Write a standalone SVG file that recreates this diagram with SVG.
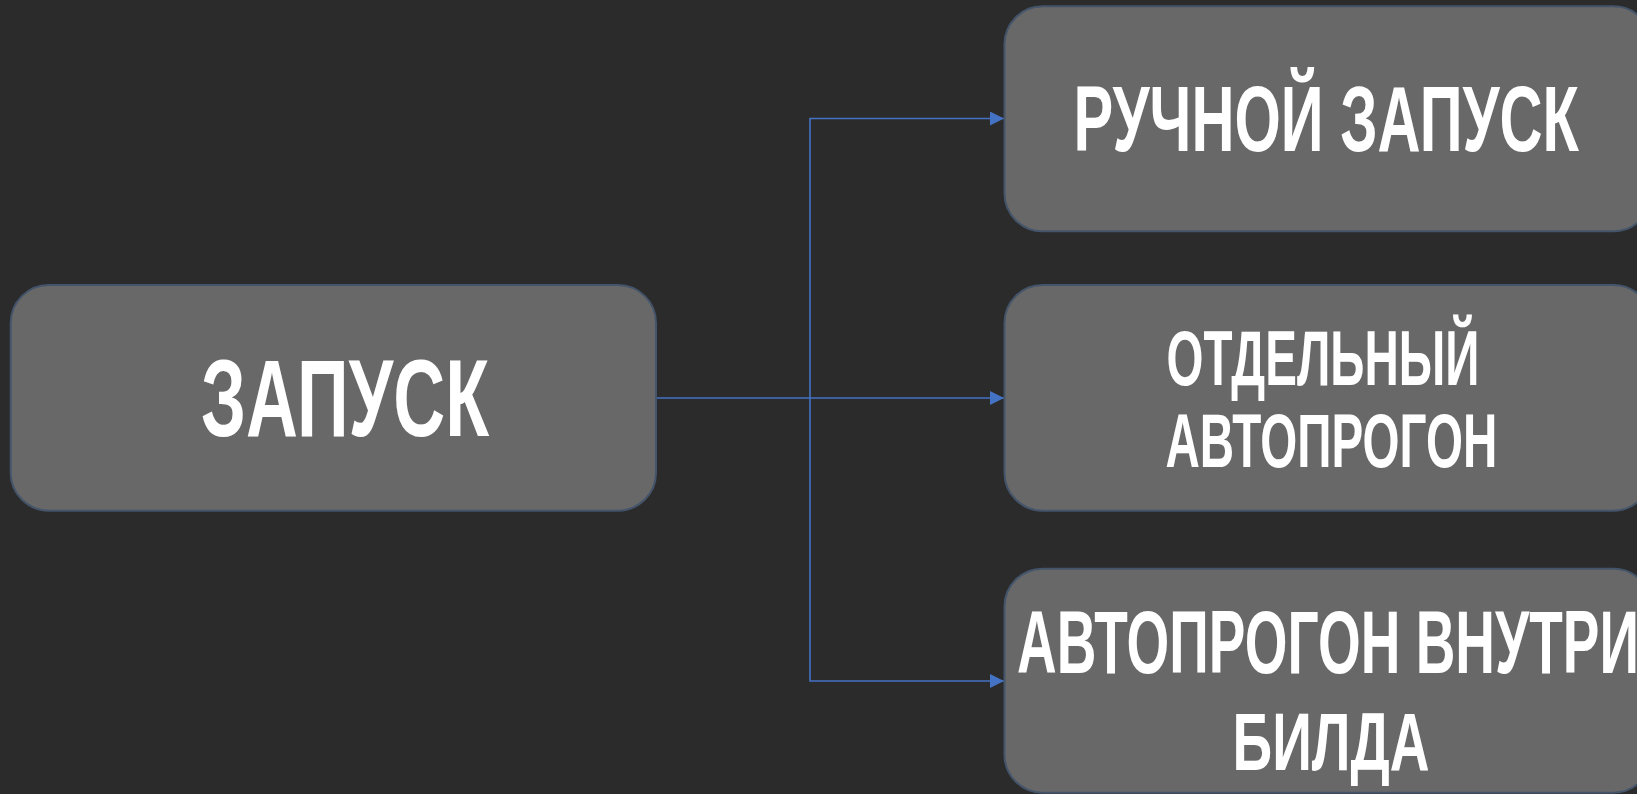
<svg xmlns="http://www.w3.org/2000/svg" width="1637" height="794" viewBox="0 0 1637 794">
<defs>
<style>
.box{fill:#686868;stroke:#44546A;stroke-width:2}
.t{font-family:"Liberation Sans","Noto Sans",Arial,sans-serif;font-weight:bold;fill:#FFFFFF}
.c{fill:none;stroke:#4472C4;stroke-width:1.6}
</style>
<marker id="arr" markerUnits="userSpaceOnUse" markerWidth="16" markerHeight="16" refX="14" refY="7" orient="auto">
<path d="M0,0 L14,7 L0,14 Z" fill="#4472C4"/>
</marker>
</defs>
<rect width="1637" height="794" fill="#2B2B2B"/>
<g id="connectors">
<path class="c" d="M656,398 H1004" marker-end="url(#arr)"/>
<path class="c" d="M810,398 V118.5 H1004" marker-end="url(#arr)"/>
<path class="c" d="M810,398 V681 H1004" marker-end="url(#arr)"/>
</g>
<g id="node-start">
<rect class="box" x="10.7" y="285" width="645.3" height="225.7" rx="38"/>
<text class="t" x="201" y="436" font-size="109" textLength="288" lengthAdjust="spacingAndGlyphs">ЗАПУСК</text>
</g>
<g id="node-manual">
<rect class="box" x="1004.5" y="6.3" width="647" height="225" rx="38"/>
<text class="t" x="1073.5" y="150.7" font-size="93" textLength="505.5" lengthAdjust="spacingAndGlyphs">РУЧНОЙ ЗАПУСК</text>
</g>
<g id="node-separate">
<rect class="box" x="1004.5" y="285" width="647" height="225.7" rx="38"/>
<text class="t" x="1166.5" y="385" font-size="77" textLength="313" lengthAdjust="spacingAndGlyphs">ОТДЕЛЬНЫЙ</text>
<text class="t" x="1165.4" y="467" font-size="76" textLength="332" lengthAdjust="spacingAndGlyphs">АВТОПРОГОН</text>
</g>
<g id="node-inbuild">
<rect class="box" x="1004.5" y="568.7" width="647" height="224" rx="38"/>
<text class="t" x="1017" y="672.7" font-size="89" textLength="622" lengthAdjust="spacingAndGlyphs">АВТОПРОГОН ВНУТРИ</text>
<text class="t" x="1232.6" y="769.5" font-size="81" textLength="197" lengthAdjust="spacingAndGlyphs">БИЛДА</text>
</g>
</svg>
